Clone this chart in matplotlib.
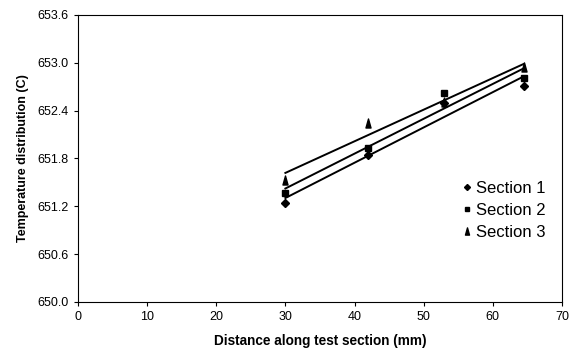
import numpy as np
import matplotlib.pyplot as plt
from matplotlib.path import Path

plt.rcParams['font.family'] = ['Liberation Sans', 'DejaVu Sans']

# distance along the test section (mm)
x = [30, 42, 53, 64.5]
sec1 = [651.24, 651.84, 652.50, 652.71]
sec2 = [651.37, 651.93, 652.62, 652.81]
sec3 = [651.53, 652.24, 652.51, 652.95]

# tall, narrow triangle marker
spike = Path([(-0.28, -0.5), (0.28, -0.5), (0, 0.5), (-0.28, -0.5)],
             [Path.MOVETO, Path.LINETO, Path.LINETO, Path.CLOSEPOLY])

series = [(sec1, 'D', 3.8, 'Section 1'),
          (sec2, 's', 4.2, 'Section 2'),
          (sec3, spike, 6.5, 'Section 3')]

fig = plt.figure(figsize=(5.77, 3.56), dpi=100)
ax = fig.add_axes([0.135, 0.152, 0.839, 0.806])

xs = np.array(x)
for y, m, ms, lab in series:
    ax.plot(x, y, linestyle='none', marker=m, markersize=ms, color='black', label=lab)
    # linear trend line over the measured range
    p = np.polyfit(xs, y, 1)
    xx = np.array([xs.min(), xs.max()])
    ax.plot(xx, np.polyval(p, xx), color='black', linewidth=1.4)

ax.set_xlim(0, 70)
ax.set_ylim(650.0, 653.6)
ax.set_xticks(np.arange(0, 71, 10))
yt = [650.0, 650.6, 651.2, 651.8, 652.4, 653.0, 653.6]
ax.set_yticks(yt)
ax.set_yticklabels(['%.1f' % v for v in yt])
ax.tick_params(direction='out', length=3, width=0.8, labelsize=9, colors='black')
for s in ax.spines.values():
    s.set_linewidth(0.8)

ax.set_xlabel('Distance along test section (mm)', fontsize=9.8, fontweight='bold', labelpad=8)
ax.set_ylabel('Temperature distribution (C)', fontsize=9, fontweight='bold', labelpad=6)

leg = ax.legend(loc='center left', bbox_to_anchor=(0.76, 0.32), frameon=False,
                fontsize=12, handletextpad=0.1, handlelength=0.8, labelspacing=0.42,
                markerscale=0.8)

fig.savefig('out.png', dpi=100)
